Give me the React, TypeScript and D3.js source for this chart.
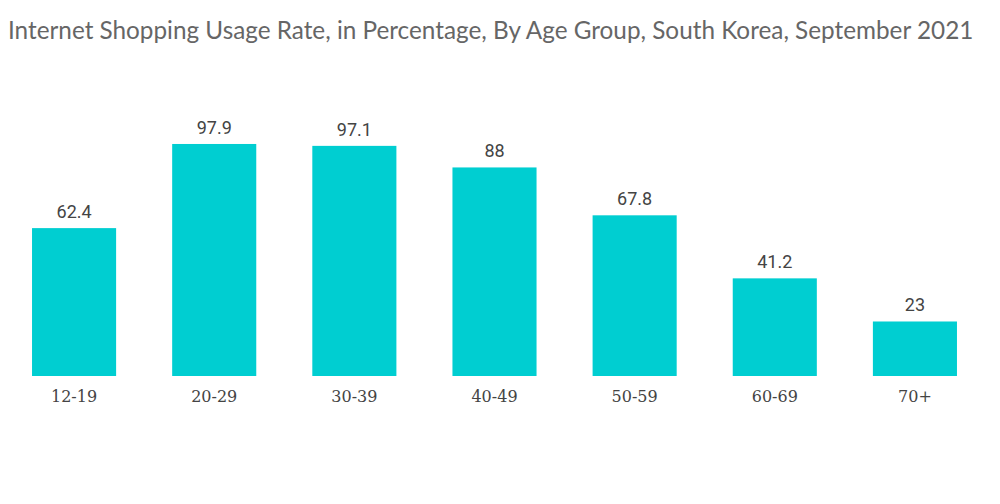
import React, { useEffect, useRef } from 'react'
import * as d3 from 'd3'

const categories = ['12-19', '20-29', '30-39', '40-49', '50-59', '60-69', '70+']
const values = [62.4, 97.9, 97.1, 88, 67.8, 41.2, 23]
const valueLabels = ['62.4', '97.9', '97.1', '88', '67.8', '41.2', '23']

const W = 1000
const H = 504

export default function App() {
  const svgRef = useRef<SVGSVGElement>(null)

  useEffect(() => {
    const svg = d3.select(svgRef.current)
    svg.selectAll('*').remove()

    const baseline = 376
    const x = d3.scaleBand<string>()
      .domain(categories)
      .range([4, 985])
      .paddingInner(0.4)
      .paddingOuter(0.2)

    const y = d3.scaleLinear()
      .domain([0, 100])
      .range([baseline, baseline - 237])

    // title
    svg.append('text')
      .attr('x', 8)
      .attr('y', 39)
      .attr('fill', '#666')
      .attr('font-family', 'Lato, sans-serif')
      .attr('font-size', 24.3)
      .text('Internet Shopping Usage Rate, in Percentage, By Age Group, South Korea, September 2021')

    const g = svg.append('g')

    g.selectAll('rect')
      .data(values)
      .enter()
      .append('rect')
      .attr('x', (_, i) => x(categories[i])!)
      .attr('y', d => y(d))
      .attr('width', x.bandwidth())
      .attr('height', d => baseline - y(d))
      .attr('fill', '#00CED1')

    g.selectAll('.val')
      .data(values)
      .enter()
      .append('text')
      .attr('class', 'val')
      .attr('x', (_, i) => x(categories[i])! + x.bandwidth() / 2)
      .attr('y', d => y(d) - 10)
      .attr('text-anchor', 'middle')
      .attr('fill', '#444')
      .attr('font-family', 'Roboto, sans-serif')
      .attr('font-size', 18)
      .text((_, i) => valueLabels[i])

    const axis = svg.append('g')
      .attr('transform', `translate(0,${baseline})`)
      .call(d3.axisBottom(x).tickSize(0).tickPadding(15))
    axis.select('.domain').remove()
    axis.selectAll('text')
      .attr('fill', '#444')
      .attr('font-family', '"DejaVu Serif", serif')
      .attr('font-size', 16)
  }, [])

  return <svg ref={svgRef} width={W} height={H} style={{ display: 'block', margin: -8 }} />
}
